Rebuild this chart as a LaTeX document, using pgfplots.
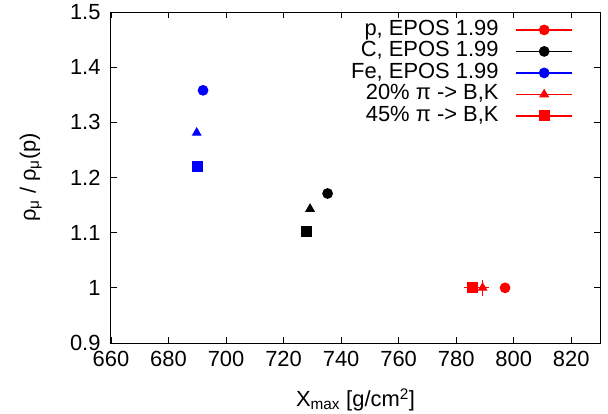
\documentclass[border=0pt]{standalone}
\usepackage{fontspec}
\setmainfont{Liberation Sans}
\usepackage{pgfplots}
\pgfplotsset{compat=1.18}
\newcommand{\lf}{\fontsize{22}{24}\selectfont}
\begin{document}
\lf
\begin{tikzpicture}
\pgfplotsset{
  gimg/.style={legend image code/.code={
     \draw[##1, mark=none] (0bp,0bp) -- (56bp,0bp);
     \draw[##1] plot[only marks] coordinates {(28bp,0bp)};}},
}
\begin{axis}[
  at={(0,0)}, anchor=south west,
  scale only axis, width=489bp, height=331bp,
  xmin=660, xmax=830, ymin=0.9, ymax=1.5,
  xtick={660,680,700,720,740,760,780,800,820},
  ytick={0.9,1,1.1,1.2,1.3,1.4,1.5},
  yticklabels={0.9,1,1.1,1.2,1.3,1.4,1.5},
  /pgf/number format/assume math mode=true,
  tick label style={font=\lf},
  xticklabel style={yshift=-1bp},
  yticklabel style={xshift=-3bp},
  tick align=inside, major tick length=6bp,
  tick style={black, line width=0.8bp},
  axis line style={line width=1bp},
  xlabel={X\textsubscript{max} [g/cm\textsuperscript{2}]},
  ylabel={ρ\textsubscript{μ} / ρ\textsubscript{μ}(p)},
  every axis x label/.style={at={(axis description cs:0.5,-0.193)}, anchor=base, font=\lf},
  every axis y label/.style={at={(axis description cs:-0.164,0.5)}, rotate=90, anchor=center, font=\lf},
  legend style={draw=none, fill=none, font=\lf,
     at={(axis description cs:0.951,0.985)}, anchor=north east,
     nodes={text height=15bp, text depth=4bp, inner ysep=1.25bp, inner xsep=3bp},
     column sep=14bp, row sep=0bp},
  legend cell align=right,
  legend plot pos=right,
  error bars/error bar style={line width=1.3bp},
  error bars/error mark=none,
]
% p, EPOS
\addplot[red, line width=1.3bp, only marks, mark=*, mark size=4.7bp, gimg,
  error bars/.cd, x dir=both, x explicit, y dir=both, y explicit]
  table[x=x, y=y, x error=ex, y error=ey] {
x y ex ey
797.0 1.000 0.5 0.003
};
\addlegendentry{p, EPOS 1.99}
% C, EPOS
\addplot[black, line width=1.3bp, only marks, mark=*, mark size=4.7bp, gimg,
  error bars/.cd, x dir=both, x explicit, y dir=both, y explicit]
  table[x=x, y=y, x error=ex, y error=ey] {
x y ex ey
735.3 1.171 0.5 0.003
};
\addlegendentry{C, EPOS 1.99}
% Fe, EPOS
\addplot[blue, line width=1.3bp, only marks, mark=*, mark size=4.7bp, gimg,
  error bars/.cd, x dir=both, x explicit, y dir=both, y explicit]
  table[x=x, y=y, x error=ex, y error=ey] {
x y ex ey
692.0 1.358 0.5 0.003
};
\addlegendentry{Fe, EPOS 1.99}
% 20% triangles
\addplot[red, line width=1.3bp, only marks, mark=triangle*, mark size=4.5bp, gimg,
  error bars/.cd, x dir=both, x explicit, y dir=both, y explicit]
  table[x=x, y=y, x error=ex, y error=ey] {
x y ex ey
789.2 1.000 2.3 0.014
};
\addlegendentry{20\% π -> B,K}
% 45% squares
\addplot[red, line width=1.3bp, only marks, mark=square*, mark size=4.8bp, gimg,
  error bars/.cd, x dir=both, x explicit, y dir=both, y explicit]
  table[x=x, y=y, x error=ex, y error=ey] {
x y ex ey
785.8 1.000 3.2 0.003
};
\addlegendentry{45\% π -> B,K}
% other nuclei, 20%
\addplot[black, line width=1.3bp, only marks, mark=triangle*, mark size=4.5bp, forget plot,
  error bars/.cd, x dir=both, x explicit, y dir=both, y explicit]
  table[x=x, y=y, x error=ex, y error=ey] {
x y ex ey
729.2 1.143 0.5 0.003
};
\addplot[blue, line width=1.3bp, only marks, mark=triangle*, mark size=4.5bp, forget plot,
  error bars/.cd, x dir=both, x explicit, y dir=both, y explicit]
  table[x=x, y=y, x error=ex, y error=ey] {
x y ex ey
689.8 1.281 0.5 0.003
};
% other nuclei, 45%
\addplot[black, line width=1.3bp, only marks, mark=square*, mark size=4.8bp, forget plot,
  error bars/.cd, x dir=both, x explicit, y dir=both, y explicit]
  table[x=x, y=y, x error=ex, y error=ey] {
x y ex ey
728.0 1.102 1.8 0.003
};
\addplot[blue, line width=1.3bp, only marks, mark=square*, mark size=4.8bp, forget plot,
  error bars/.cd, x dir=both, x explicit, y dir=both, y explicit]
  table[x=x, y=y, x error=ex, y error=ey] {
x y ex ey
690.1 1.220 0.5 0.003
};
\end{axis}
\pgfresetboundingbox
\path (-111bp,-71bp) rectangle (497bp,343bp);
\end{tikzpicture}
\end{document}
